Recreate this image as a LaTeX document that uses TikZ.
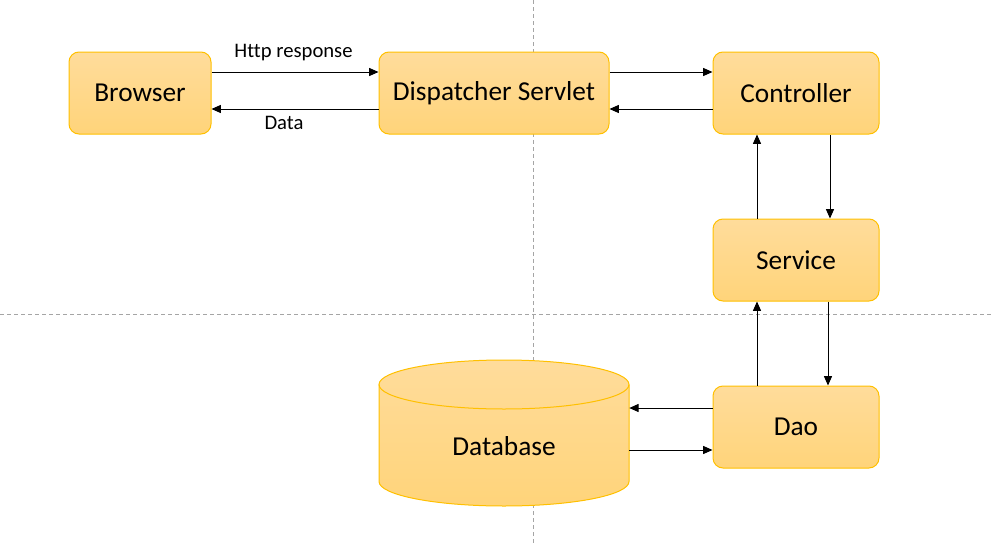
\documentclass[tikz,border=0pt]{standalone}
\usepackage{fontspec}
\setmainfont[Ligatures={NoCommon}]{Carlito}
\usetikzlibrary{arrows.meta,calc}
\definecolor{boxtop}{RGB}{255,220,155}
\definecolor{boxbot}{RGB}{255,212,122}
\definecolor{boxline}{RGB}{255,192,0}
\definecolor{dashgray}{RGB}{165,165,165}
\tikzset{
  box/.style={draw=boxline, line width=0.75pt, rounded corners=7.5pt,
    top color=boxtop, bottom color=boxbot, minimum width=124.5pt, minimum height=61.5pt,
    font=\fontsize{20.5}{24}\selectfont, inner sep=0pt},
  conn/.style={line width=0.75pt, -{Triangle[length=7pt,width=6pt]}},
  lbl/.style={font=\fontsize{15.5}{18}\selectfont, inner sep=0pt},
  guide/.style={dashgray, line width=0.75pt, dash pattern=on 3pt off 2.25pt}
}
\begin{document}
\begin{tikzpicture}[x=0.75pt,y=-0.75pt]
\useasboundingbox (0,0) rectangle (993,546);
% guides
\draw[guide] (533,0) -- (533,546);
\draw[guide] (0,314) -- (993,314);
% boxes
\node[box, minimum width=106.5pt] (browser) at (140,93) {Browser};
\node[box, minimum width=172.5pt] (disp) at (494,93) {Dispatcher Servlet};
\node[box] (ctrl) at (796,93) {Controller};
\node[box] (svc) at (796,260) {Service};
\node[box] (dao) at (796,427) {Dao};
% database cylinder
\shade[top color=boxtop, bottom color=boxbot]
  (379,384.5) -- (379,481.5) arc[start angle=180,end angle=360,x radius=125,y radius=-24.5]
  -- (629,384.5) arc[start angle=0,end angle=180,x radius=125,y radius=-24.5] -- cycle;
\draw[boxline, line width=0.75pt]
  (379,384.5) -- (379,481.5) arc[start angle=180,end angle=360,x radius=125,y radius=-24.5]
  -- (629,384.5);
\draw[boxline, line width=0.75pt] (504,384.5) ellipse[x radius=125, y radius=24.5];
\node[minimum width=187.5pt, minimum height=109.5pt, inner sep=0pt] (db) at (504,433) {};
\node[font=\fontsize{20.5}{24}\selectfont, inner sep=0pt] (dbtext) at (504,446) {Database};
% connectors
\draw[conn] (browser.east |- 0,72) -- (disp.west |- 0,72);
\node[lbl] (lhttp) at (293.5,52.5) {Http response};
\draw[conn] (disp.west |- 0,109) -- (browser.east |- 0,109);
\node[lbl] (ldata) at (284,122.5) {Data};
\draw[conn] (disp.east |- 0,72) -- (ctrl.west |- 0,72);
\draw[conn] (ctrl.west |- 0,109) -- (disp.east |- 0,109);
\draw[conn] (svc.north -| 757,0) -- (ctrl.south -| 757,0);
\draw[conn] (ctrl.south -| 830,0) -- (svc.north -| 830,0);
\draw[conn] (dao.north -| 757,0) -- (svc.south -| 757,0);
\draw[conn] (svc.south -| 828,0) -- (dao.north -| 828,0);
\draw[conn] (dao.west |- 0,408) -- (db.east |- 0,408);
\draw[conn] (db.east |- 0,450) -- (dao.west |- 0,450);
\end{tikzpicture}
\end{document}
